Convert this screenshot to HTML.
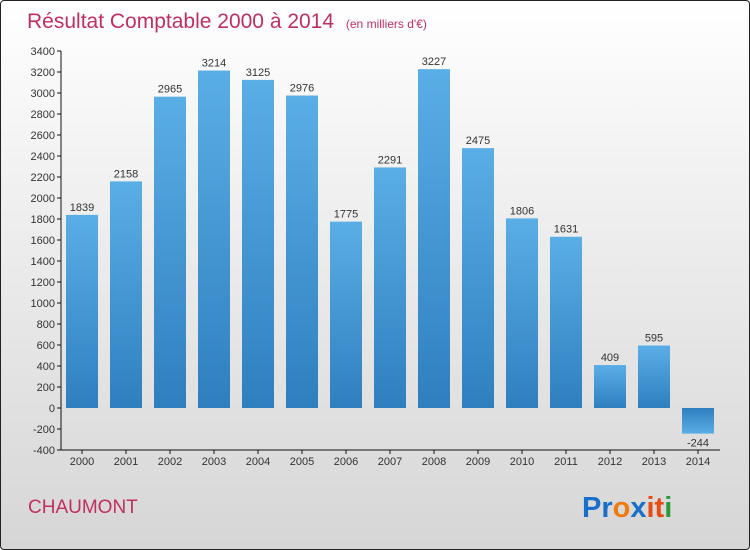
<!DOCTYPE html>
<html><head><meta charset="utf-8"><style>
body{margin:0;width:750px;height:550px;overflow:hidden;font-family:"Liberation Sans",sans-serif}
#frame{position:absolute;left:0;top:0;width:748px;height:548px;border:1px solid #222;border-radius:4px;background:linear-gradient(#ffffff,#f2f2f2 30%,#d6d6d6)}
</style></head><body>
<div id="frame"></div>
<svg id="c" width="750" height="550" style="position:absolute;left:0;top:0">
<defs>
<linearGradient id="gp" x1="0" y1="0" x2="0" y2="1"><stop offset="0" stop-color="#5aaee6"/><stop offset="1" stop-color="#2f7fbf"/></linearGradient>
<linearGradient id="gn" x1="0" y1="0" x2="0" y2="1"><stop offset="0" stop-color="#2f7fbf"/><stop offset="1" stop-color="#5aaee6"/></linearGradient>
</defs>
<text x="27" y="28" font-size="21" fill="#c0305e">Résultat Comptable 2000 à 2014 <tspan font-size="12" dx="6">(en milliers d'€)</tspan></text>
<text x="28" y="513" font-size="19" fill="#c0305e">CHAUMONT</text>
<text x="582" y="517" font-size="29" font-weight="bold"><tspan fill="#1a6fc9">Pr</tspan><tspan fill="#f07a10">o</tspan><tspan fill="#1a6fc9">x</tspan><tspan fill="#e84a10">it</tspan><tspan fill="#2a9a3a">i</tspan></text>
<g id="g"></g>
</svg>
<script>
const years=["2000","2001","2002","2003","2004","2005","2006","2007","2008","2009","2010","2011","2012","2013","2014"];
const values=[1839,2158,2965,3214,3125,2976,1775,2291,3227,2475,1806,1631,409,595,-244];
const ticks=[3400,3200,3000,2800,2600,2400,2200,2000,1800,1600,1400,1200,1000,800,600,400,200,0,-200,-400];
const NS="http://www.w3.org/2000/svg",g=document.getElementById('g');
const y=v=>51+(3400-v)*399/3800, x=i=>82+44*i;
function mk(t,a,txt){const e=document.createElementNS(NS,t);for(const k in a)e.setAttribute(k,a[k]);if(txt!=null)e.textContent=txt;g.appendChild(e);return e;}
let ax=mk('line',{x1:61,y1:51,x2:61,y2:450,stroke:'#111'});


let bx=mk('line',{x1:61,y1:450,x2:720,y2:450,stroke:'#111'});


ticks.forEach(t=>{
 mk('line',{x1:57,x2:61,y1:y(t),y2:y(t),stroke:'#111'});
 let l=mk('text',{x:55,y:y(t)+4,'font-size':11,fill:'#333','text-anchor':'end'},t);
 
 
});
values.forEach((v,i)=>{
 const top=Math.min(y(v),y(0)),h=Math.abs(y(v)-y(0));
 let r=mk('rect',{x:x(i)-16,y:top,width:32,height:h,fill:v<0?'url(#gn)':'url(#gp)'});
 
 
 let vl=mk('text',{x:x(i),y:v<0?y(v)+13:y(v)-4,'font-size':11,fill:'#333','text-anchor':'middle'},v);
 
 
 mk('line',{x1:x(i),x2:x(i),y1:450,y2:454,stroke:'#111'});
 let xl=mk('text',{x:x(i),y:465,'font-size':11,fill:'#333','text-anchor':'middle'},years[i]);
 
 
});
</script>
</body></html>
